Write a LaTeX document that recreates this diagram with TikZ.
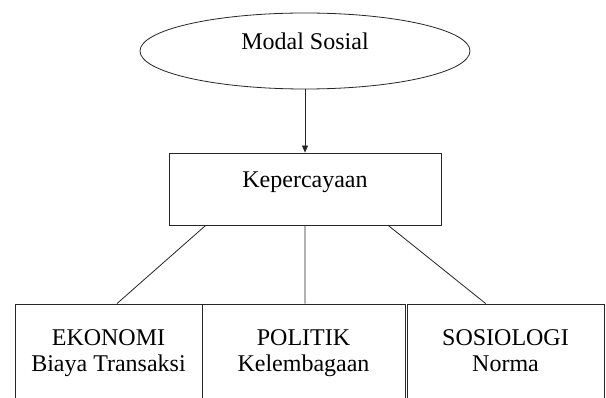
\documentclass[tikz,border=0pt]{standalone}
\usepackage{fontspec}
\setmainfont{Liberation Serif}
\usetikzlibrary{shapes.geometric,arrows.meta,calc}
\begin{document}
\begin{tikzpicture}[x=1pt,y=-1pt,
  ln/.style={draw=black!85,line width=0.8pt},
  boxshape/.style={ln,rectangle,inner sep=0pt},
  lbl/.style={inner sep=0pt,anchor=base,font=\fontsize{24}{27}\selectfont}]
\fill[white] (0,0) rectangle (606,398);
\useasboundingbox (0,0) rectangle (606,398);
\clip (0,0) rectangle (606,398);
% top ellipse
\node[ln,ellipse,minimum width=330pt,minimum height=76pt,inner sep=0pt] (ms) at (305,51) {};
\node[lbl] (mst) at (305,50) {Modal Sosial};
% middle box
\node[boxshape,minimum width=272pt,minimum height=72pt] (kp) at (305,189) {};
\node[lbl] (kpt) at (305,188) {Kepercayaan};
% bottom boxes
\node[boxshape,minimum width=187pt,minimum height=100pt] (b1) at (108.5,354) {};
\node[boxshape,minimum width=203pt,minimum height=100pt] (b2) at (303.5,354) {};
\node[boxshape,minimum width=197pt,minimum height=100pt] (b3) at (505.5,354) {};
\node[lbl] (b1a) at (108.5,346) {EKONOMI};
\node[lbl] (b1b) at (108.5,372) {Biaya Transaksi};
\node[lbl] (b2a) at (303.5,346) {POLITIK};
\node[lbl] (b2b) at (303.5,372) {Kelembagaan};
\node[lbl] (b3a) at (505.5,346) {SOSIOLOGI};
\node[lbl] (b3b) at (505.5,372) {Norma};
% connectors
\draw[ln,-{Triangle[length=7pt,width=6pt]}] (ms.south) -- (kp.north);
\draw[ln] ($(kp.south west)!0.136!(kp.south east)$) -- ($(b1.north west)!0.545!(b1.north east)$);
\draw[ln] (kp.south) -- ($(b2.north west)!0.507!(b2.north east)$);
\draw[ln] ($(kp.south west)!0.805!(kp.south east)$) -- ($(b3.north west)!0.40!(b3.north east)$);
\end{tikzpicture}
\end{document}
